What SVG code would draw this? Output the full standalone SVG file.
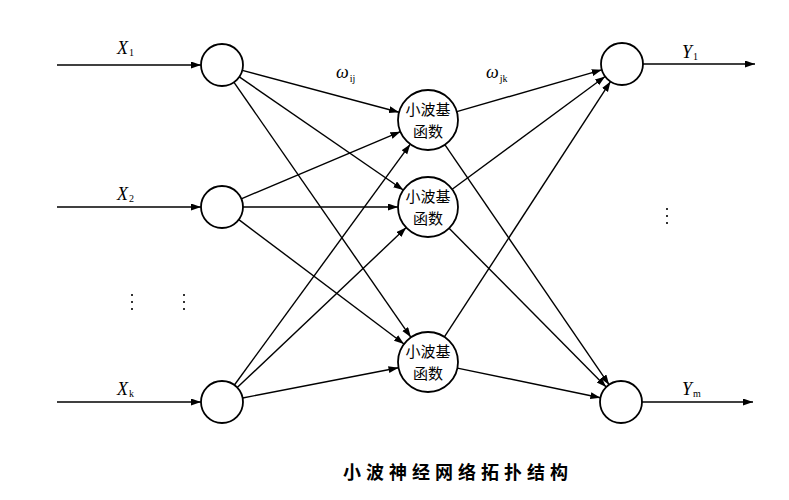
<svg xmlns="http://www.w3.org/2000/svg" width="789" height="500" viewBox="0 0 789 500">
<defs>
<marker id="arr" markerUnits="userSpaceOnUse" markerWidth="10" markerHeight="8" refX="10" refY="3.5" orient="auto">
<path d="M0,0 L10,3.5 L0,7 z" fill="#000"/>
</marker>
<style>
.n{fill:#fff;stroke:#000;stroke-width:1.8}
.c{stroke:#000;stroke-width:1.4;fill:none;marker-end:url(#arr)}
.lab{font-family:"Liberation Serif",serif;font-style:italic;font-size:18px;fill:#000}
.sub{font-size:10px;font-style:normal}
.cn{font-family:"Noto Sans CJK SC",sans-serif;font-size:15px;fill:#000;text-anchor:middle}
.cap{font-family:"Noto Sans CJK SC",sans-serif;font-weight:bold;font-size:18px;letter-spacing:5px;fill:#000}
.dot{fill:#333}
</style>
</defs>
<rect width="789" height="500" fill="#fff"/>
<g id="connectors">
<line class="c" x1="57" y1="65" x2="201" y2="65"/>
<line class="c" x1="57" y1="207" x2="201" y2="207"/>
<line class="c" x1="57" y1="402" x2="201" y2="402"/>
<line class="c" x1="242.3" y1="70.4" x2="399" y2="112.3"/>
<line class="c" x1="239.3" y1="76.9" x2="403.3" y2="190"/>
<line class="c" x1="234" y1="82.3" x2="410.9" y2="337.3"/>
<line class="c" x1="241.3" y1="198.8" x2="400.4" y2="131.7"/>
<line class="c" x1="243" y1="207" x2="398" y2="207"/>
<line class="c" x1="238.8" y1="219.6" x2="404" y2="344"/>
<line class="c" x1="234.4" y1="385" x2="410.3" y2="144.2"/>
<line class="c" x1="237.2" y1="387.6" x2="406.2" y2="227.6"/>
<line class="c" x1="242.6" y1="398" x2="398.5" y2="367.7"/>
<line class="c" x1="456.8" y1="111.7" x2="601.8" y2="69.8"/>
<line class="c" x1="445" y1="144.8" x2="609.1" y2="384.7"/>
<line class="c" x1="452.2" y1="189.2" x2="605.1" y2="76.5"/>
<line class="c" x1="449.1" y1="228.3" x2="606.2" y2="387.1"/>
<line class="c" x1="444.4" y1="336.9" x2="610.5" y2="81.6"/>
<line class="c" x1="457.4" y1="368.1" x2="600.4" y2="397.7"/>
<line class="c" x1="643" y1="64" x2="755" y2="64"/>
<line class="c" x1="642" y1="402" x2="753" y2="402"/>
</g>
<g id="in1"><circle class="n" cx="222" cy="65" r="21"/></g>
<g id="in2"><circle class="n" cx="222" cy="207" r="21"/></g>
<g id="in3"><circle class="n" cx="222" cy="402" r="21"/></g>
<g id="h1"><circle class="n" cx="428" cy="120" r="30"/><text class="cn" x="428" y="115">小波基</text><text class="cn" x="428" y="137">函数</text></g>
<g id="h2"><circle class="n" cx="428" cy="207" r="30"/><text class="cn" x="428" y="202">小波基</text><text class="cn" x="428" y="224">函数</text></g>
<g id="h3"><circle class="n" cx="428" cy="362" r="30"/><text class="cn" x="428" y="357">小波基</text><text class="cn" x="428" y="379">函数</text></g>
<g id="out1"><circle class="n" cx="622" cy="64" r="21"/></g>
<g id="out2"><circle class="n" cx="621" cy="402" r="21"/></g>
<g id="labels">
<text class="lab" x="117" y="54">X<tspan class="sub" dx="1" dy="2">1</tspan></text>
<text class="lab" x="117" y="200">X<tspan class="sub" dx="1" dy="2">2</tspan></text>
<text class="lab" x="117" y="395">X<tspan class="sub" dx="1" dy="2">k</tspan></text>
<text class="lab" x="336" y="78" font-size="16">ω<tspan class="sub" dx="1" dy="4">ij</tspan></text>
<text class="lab" x="486" y="78" font-size="16">ω<tspan class="sub" dx="1" dy="4">jk</tspan></text>
<text class="lab" x="682" y="58">Y<tspan class="sub" dx="1" dy="2">1</tspan></text>
<text class="lab" x="682" y="395">Y<tspan class="sub" dx="1" dy="2">m</tspan></text>
<text class="cap" x="343" y="479">小波神经网络拓扑结构</text>
</g>
<g id="dots">
<rect class="dot" x="131" y="294" width="2" height="2"/>
<rect class="dot" x="131" y="301" width="2" height="2"/>
<rect class="dot" x="131" y="308" width="2" height="2"/>
<rect class="dot" x="183" y="294" width="2" height="2"/>
<rect class="dot" x="183" y="301" width="2" height="2"/>
<rect class="dot" x="183" y="308" width="2" height="2"/>
<rect class="dot" x="666" y="208" width="2" height="2"/>
<rect class="dot" x="666" y="215" width="2" height="2"/>
<rect class="dot" x="666" y="222" width="2" height="2"/>
</g>
</svg>
